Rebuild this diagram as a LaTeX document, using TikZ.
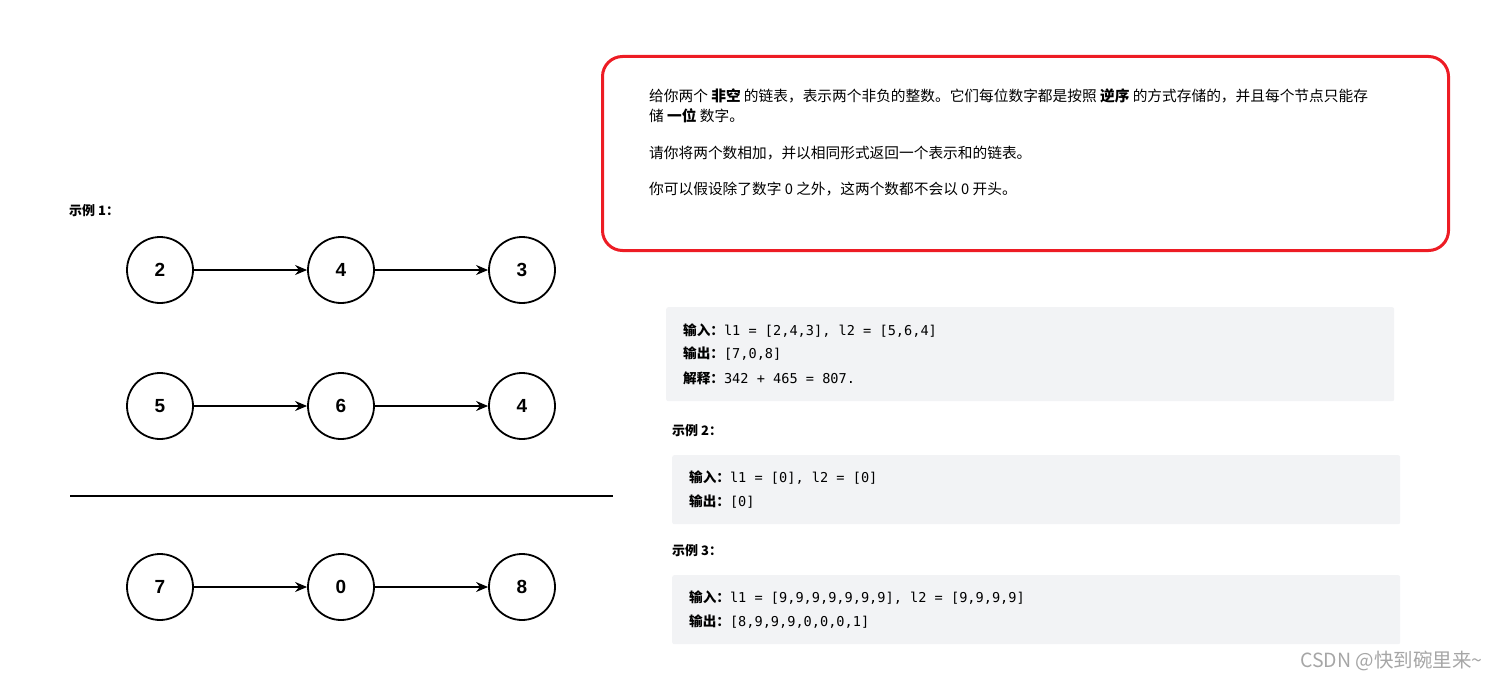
\documentclass[tikz,border=0pt]{standalone}
\usepackage{fontspec}
\setmainfont{Liberation Sans}
\setmonofont{DejaVu Sans Mono}
\newfontfamily\cjk{Noto Sans CJK SC}
\usetikzlibrary{arrows.meta}
\definecolor{redb}{RGB}{237,28,36}
\definecolor{codebg}{RGB}{242,243,245}
\tikzset{
  num/.style={circle,draw,line width=1.8pt,minimum size=66pt,inner sep=0pt,font=\fontsize{19}{19}\selectfont\bfseries},
  link/.style={-{Stealth[length=12pt,width=10pt]},line width=1.4pt},
  para/.style={anchor=west,inner sep=0pt,font=\cjk\fontsize{14.7}{16}\selectfont},
  hdr/.style={anchor=west,inner sep=0pt,font=\cjk\bfseries\fontsize{13}{14}\selectfont},
  code/.style={anchor=west,inner sep=0pt,font=\fontsize{13.6}{15}\selectfont},
  box/.style={fill=codebg,rounded corners=2pt}
}
\newcommand{\lab}[1]{{\cjk\bfseries #1}}
\begin{document}
\begin{tikzpicture}[x=1pt,y=-1pt]
\useasboundingbox (0,0) rectangle (1498,679);
% left
\node[hdr] (ex1) at (69,211) {示例 1：};
\foreach \r/\y/\a/\b/\c in {a/270/2/4/3, b/406/5/6/4, c/587/7/0/8}{
  \node[num] (\r1) at (160,\y) {\a};
  \node[num] (\r2) at (341,\y) {\b};
  \node[num] (\r3) at (522,\y) {\c};
  \draw[link] (\r1) -- (\r2);
  \draw[link] (\r2) -- (\r3);
}
\coordinate (l1) at (70,496); \coordinate (l2) at (613,496);
\draw[line width=1.8pt] (l1) -- (l2);
% red box
\node[draw=redb,line width=3pt,rounded corners=20pt,minimum width=846pt,minimum height=194pt,anchor=north west] (rb) at (601,55) {};
\node[para] (p1) at (649,96) {给你两个 \textbf{非空} 的链表，表示两个非负的整数。它们每位数字都是按照 \textbf{逆序} 的方式存储的，并且每个节点只能存};
\node[para] (p2) at (649,116) {储 \textbf{一位} 数字。};
\node[para] (p3) at (649,153) {请你将两个数相加，并以相同形式返回一个表示和的链表。};
\node[para] (p4) at (649,189) {你可以假设除了数字 0 之外，这两个数都不会以 0 开头。};
% boxes
\node[box,minimum width=728pt,minimum height=94pt,anchor=north west] (b1) at (666,307) {};
\node[code] at (683,331) {\lab{输入：}\texttt{l1 = [2,4,3], l2 = [5,6,4]}};
\node[code] at (683,354) {\lab{输出：}\texttt{[7,0,8]}};
\node[code] at (683,378) {\lab{解释：}\texttt{342 + 465 = 807.}};
\node[hdr] (ex2) at (672,431) {示例 2：};
\node[box,minimum width=728pt,minimum height=69pt,anchor=north west] (b2) at (672,455) {};
\node[code] at (689,478) {\lab{输入：}\texttt{l1 = [0], l2 = [0]}};
\node[code] at (689,502) {\lab{输出：}\texttt{[0]}};
\node[hdr] (ex3) at (672,551) {示例 3：};
\node[box,minimum width=728pt,minimum height=69pt,anchor=north west] (b3) at (672,575) {};
\node[code] at (689,598) {\lab{输入：}\texttt{l1 = [9,9,9,9,9,9,9], l2 = [9,9,9,9]}};
\node[code] at (689,622) {\lab{输出：}\texttt{[8,9,9,9,0,0,0,1]}};
\node[para,text=gray!70,font=\cjk\fontsize{19.5}{21}\selectfont] (wm) at (1300,661) {CSDN @快到碗里来\textasciitilde};
\end{tikzpicture}
\end{document}
